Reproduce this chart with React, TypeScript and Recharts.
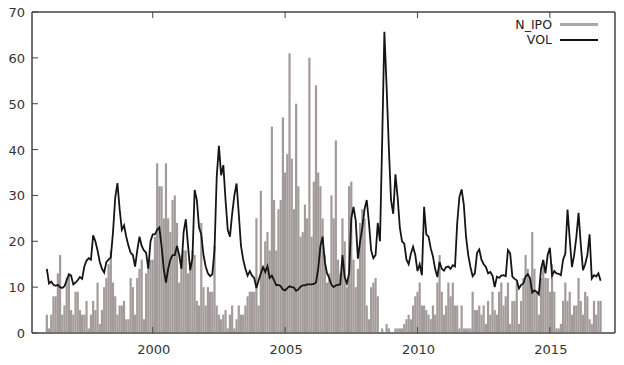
import { ComposedChart, Bar, Line, XAxis, YAxis, Legend, ReferenceArea } from 'recharts';

const FONT = '"DejaVu Sans", sans-serif';
const START_YEAR = 1996;

// monthly IPO count, Jan 1996 .. Dec 2016, one row per year
const nIpo: number[] = [
  4, 1, 4, 8, 8, 13, 17, 4, 6, 12, 13, 5, // 1996
  4, 9, 9, 5, 4, 4, 7, 1, 4, 7, 5, 11, // 1997
  2, 5, 10, 12, 15, 18, 11, 8, 4, 6, 6, 7, // 1998
  3, 3, 12, 10, 4, 12, 14, 16, 3, 13, 14, 16, // 1999
  16, 21, 37, 32, 32, 25, 37, 25, 22, 29, 30, 24, // 2000
  11, 17, 18, 18, 13, 14, 18, 17, 7, 6, 24, 10, // 2001
  6, 10, 9, 9, 19, 6, 4, 3, 4, 5, 1, 4, // 2002
  6, 1, 3, 6, 4, 4, 6, 8, 9, 9, 9, 25, // 2003
  6, 31, 14, 20, 22, 18, 45, 29, 18, 27, 29, 47, // 2004
  35, 39, 61, 38, 27, 50, 32, 21, 22, 28, 25, 60, // 2005
  21, 33, 54, 35, 32, 25, 17, 11, 13, 30, 25, 42, // 2006
  16, 13, 25, 20, 10, 32, 33, 16, 10, 14, 24, 27, // 2007
  25, 6, 3, 10, 11, 12, 8, 0, 1, 0, 2, 1, // 2008
  0, 0, 1, 1, 1, 1, 2, 3, 4, 3, 6, 8, // 2009
  9, 11, 6, 6, 5, 4, 3, 6, 4, 11, 17, 9, // 2010
  4, 6, 11, 8, 11, 6, 6, 1, 6, 1, 1, 1, // 2011
  1, 9, 5, 5, 6, 4, 6, 2, 7, 4, 9, 5, // 2012
  4, 9, 11, 6, 8, 11, 2, 7, 7, 11, 2, 7, // 2013
  12, 17, 14, 12, 22, 14, 9, 4, 12, 16, 12, 12, // 2014
  9, 15, 9, 1, 1, 2, 7, 11, 7, 9, 4, 6, // 2015
  6, 12, 7, 4, 9, 8, 3, 2, 7, 4, 7, 7, // 2016
];

// monthly volatility
const vol: number[] = [
  14, 10.8, 11.2, 10.5, 10.3, 10.5, 10.0, 9.8, 10.2, 11.5, 12.8, 12.5, // 1996
  10.6, 11.0, 11.5, 12.2, 11.8, 14.5, 15.8, 16.3, 16.0, 21.3, 20.0, 18.0, // 1997
  15.5, 14.0, 13.2, 15.5, 16.0, 16.5, 22, 29.5, 32.7, 27, 22.5, 23.5, // 1998
  21, 19, 17.5, 17, 14.5, 18, 21, 19, 18, 17.5, 14, 20, // 1999
  21.5, 21.5, 22.5, 23, 19, 14, 11, 14, 16, 17, 17, 19, // 2000
  17, 14, 22, 24.8, 19, 13.7, 16.3, 31.2, 29, 23, 21.5, 17, // 2001
  14.5, 13, 12.4, 12.8, 18, 34, 40.8, 34.4, 36.6, 29, 22.5, 21, // 2002
  26, 30, 32.6, 26, 19, 16, 14, 12.5, 13.5, 12.5, 12, 9.8, // 2003
  11.5, 13, 14.4, 13.3, 14.6, 12, 12.5, 11.5, 10.4, 10.5, 10.2, 9.5, // 2004
  9.3, 9.8, 10.2, 10, 9.9, 9.2, 9.5, 10.1, 10.4, 10.4, 10.6, 10.6, // 2005
  10.6, 10.7, 11, 14, 19, 21, 15.5, 13, 12, 10.5, 10, 10.4, // 2006
  10.5, 10.6, 17, 12.2, 10.8, 13, 25, 27.5, 24.5, 16.2, 20, 23, // 2007
  27, 29, 24, 18, 16.3, 17, 24, 20, 42, 65.7, 53.7, 40.6, // 2008
  29, 26, 34.6, 29.6, 23, 20, 19.5, 16, 15, 17.3, 18.8, 17, // 2009
  13.5, 15, 12.6, 27.5, 21.5, 21, 18.5, 16.7, 14, 12.2, 15.5, 14, // 2010
  13.6, 14.4, 14.5, 14, 14.8, 14.5, 24, 29.7, 31.3, 28, 21, 17, // 2011
  14.4, 12.4, 13, 17.5, 18.2, 16, 15, 14.4, 13, 13.3, 12.5, 10, // 2012
  12.3, 12, 12.5, 12.6, 12.4, 18.1, 17.4, 12.3, 11.8, 11.5, 9.7, 10.5, // 2013
  10.8, 12.3, 12.8, 12, 8.8, 9.3, 9, 8.4, 14, 15.9, 13, 17, // 2014
  18.6, 12.5, 13.5, 13, 12.9, 12.6, 16, 17.3, 26.9, 20.5, 14.4, 17, // 2015
  20.9, 26.2, 19.4, 13.7, 15, 17, 21.5, 11.9, 12.6, 12.3, 13, 11.4, // 2016
];

const xTicks = [2000, 2005, 2010, 2015];
const yTicks = [0, 10, 20, 30, 40, 50, 60, 70];
const seriesNames = ['N_IPO', 'VOL'];
const seriesColors = ['#a8a8a8', '#111111'];

const data = nIpo.map((n, i) => ({ t: START_YEAR + i / 12, nIpo: n, vol: vol[i] }));

const X_DOMAIN: [number, number] = [1995.44, 2017.46];
const Y_DOMAIN: [number, number] = [0, 70];
const AXIS_COLOR = '#444';
const TICK_LEN = 6;

// gnuplot draws its tick marks inside the frame, so the ticks are custom:
// tickSize/tickMargin are 0 and x/y arrive exactly on the axis line
type Side = 'left' | 'right' | 'top' | 'bottom';
const makeTick = (side: Side) => (props: any) => {
  const { x, y, payload } = props;
  const label = { fontFamily: FONT, fontSize: 13, fill: '#333' };
  if (side === 'left') {
    return (
      <g>
        <line x1={x} y1={y} x2={x + TICK_LEN} y2={y} stroke={AXIS_COLOR} />
        <text x={x - 7} y={y} dy={5} textAnchor="end" {...label}>{payload.value}</text>
      </g>
    );
  }
  if (side === 'bottom') {
    return (
      <g>
        <line x1={x} y1={y} x2={x} y2={y - TICK_LEN} stroke={AXIS_COLOR} />
        <text x={x + 1} y={y} dy={20.5} textAnchor="middle" {...label}>{payload.value}</text>
      </g>
    );
  }
  if (side === 'right') {
    return <line x1={x} y1={y} x2={x - TICK_LEN} y2={y} stroke={AXIS_COLOR} />;
  }
  return <line x1={x} y1={y} x2={x} y2={y + TICK_LEN} stroke={AXIS_COLOR} />;
};

// gnuplot style key: label on the left, line sample on the right
const KeyBox = () => (
  <div style={{ fontFamily: FONT, fontSize: 12.5, color: '#222' }}>
    {seriesNames.map((name, i) => (
      <div
        key={name}
        style={{ display: 'flex', justifyContent: 'flex-end', alignItems: 'center', height: 15 }}
      >
        <span style={{ lineHeight: '15px' }}>{name}</span>
        <span
          style={{
            display: 'inline-block',
            width: 38,
            height: i === 0 ? 3 : 2,
            background: seriesColors[i],
            marginLeft: 8,
            marginRight: 2,
          }}
        />
      </div>
    ))}
  </div>
);

export default function App() {
  return (
    <div style={{ width: 624, height: 365, background: '#fff' }}>
      <style>{'body{margin:0;background:#fff}'}</style>
      <ComposedChart
        width={624}
        height={365}
        data={data}
        margin={{ top: 11, right: 8, bottom: 2, left: 0 }}
      >
        <XAxis
          dataKey="t"
          type="number"
          domain={X_DOMAIN}
          allowDataOverflow
          ticks={xTicks}
          interval={0}
          height={30}
          tickSize={0}
          tickMargin={0}
          tickLine={false}
          stroke={AXIS_COLOR}
          tick={makeTick('bottom')}
        />
        <XAxis
          xAxisId="top"
          orientation="top"
          dataKey="t"
          type="number"
          domain={X_DOMAIN}
          allowDataOverflow
          ticks={xTicks}
          interval={0}
          height={1}
          tickSize={0}
          tickMargin={0}
          tickLine={false}
          stroke={AXIS_COLOR}
          tick={makeTick('top')}
        />
        <YAxis
          type="number"
          domain={Y_DOMAIN}
          ticks={yTicks}
          interval={0}
          width={32}
          tickSize={0}
          tickMargin={0}
          tickLine={false}
          stroke={AXIS_COLOR}
          tick={makeTick('left')}
        />
        <YAxis
          yAxisId="right"
          orientation="right"
          type="number"
          domain={Y_DOMAIN}
          ticks={yTicks}
          interval={0}
          width={1}
          tickSize={0}
          tickMargin={0}
          tickLine={false}
          stroke={AXIS_COLOR}
          tick={makeTick('right')}
        />
        <Legend
          layout="horizontal"
          verticalAlign="middle"
          align="center"
          wrapperStyle={{ top: 17, left: 500, width: 100, height: 30 }}
          content={<KeyBox />}
        />
        <Bar dataKey="nIpo" name="N_IPO" fill="#a39b9b" barSize={2.2} isAnimationActive={false} />
        <Line
          dataKey="vol"
          name="VOL"
          type="linear"
          stroke="#151515"
          strokeWidth={1.8}
          dot={false}
          isAnimationActive={false}
        />
        <ReferenceArea
          x1={X_DOMAIN[0]}
          x2={X_DOMAIN[1]}
          y1={Y_DOMAIN[0]}
          y2={Y_DOMAIN[1]}
          fill="none"
          stroke={AXIS_COLOR}
          strokeWidth={1}
          ifOverflow="visible"
        />
      </ComposedChart>
    </div>
  );
}
